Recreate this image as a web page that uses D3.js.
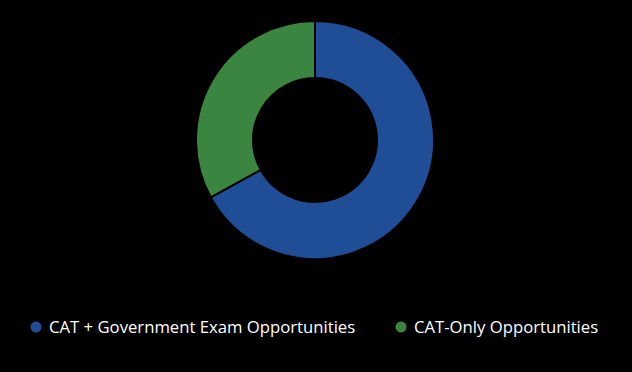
<!DOCTYPE html>
<html>
<head>
<meta charset="utf-8">
<script src="https://cdn.jsdelivr.net/npm/d3@7.9.0/dist/d3.min.js"></script>
<style>
  html, body { margin: 0; padding: 0; background: #000; }
  svg { display: block; }
  text { font-family: "Open Sans", "Noto Sans", sans-serif; fill: #fff; }
</style>
</head>
<body>
<svg id="chart" width="632" height="372"></svg>
<script>
const labels = ['CAT + Government Exam Opportunities', 'CAT-Only Opportunities'];
const values = [67, 33];
const colors = ['#1f4e97', '#3a8540'];

const svg = d3.select('#chart');
const cx = 315, cy = 140;

const pie = d3.pie().sort(null).value((d) => d.value);
const arc = d3.arc().innerRadius(62).outerRadius(119);

const data = labels.map((label, i) => ({ label, value: values[i], color: colors[i] }));

svg.append('g')
  .attr('transform', `translate(${cx},${cy})`)
  .selectAll('path')
  .data(pie(data))
  .join('path')
  .attr('d', arc)
  .attr('fill', (d) => d.data.color)
  .attr('stroke', '#000')
  .attr('stroke-width', 2);

// legend
const legendX = [36, 401];
const legend = svg.append('g');
data.forEach((d, i) => {
  const g = legend.append('g').attr('transform', `translate(${legendX[i]},327)`);
  g.append('circle').attr('r', 5.5).attr('fill', d.color);
  g.append('text')
    .attr('x', 13)
    .attr('dy', '0.35em')
    .attr('font-size', 16.7)
    .text(d.label);
});
</script>
</body>
</html>
